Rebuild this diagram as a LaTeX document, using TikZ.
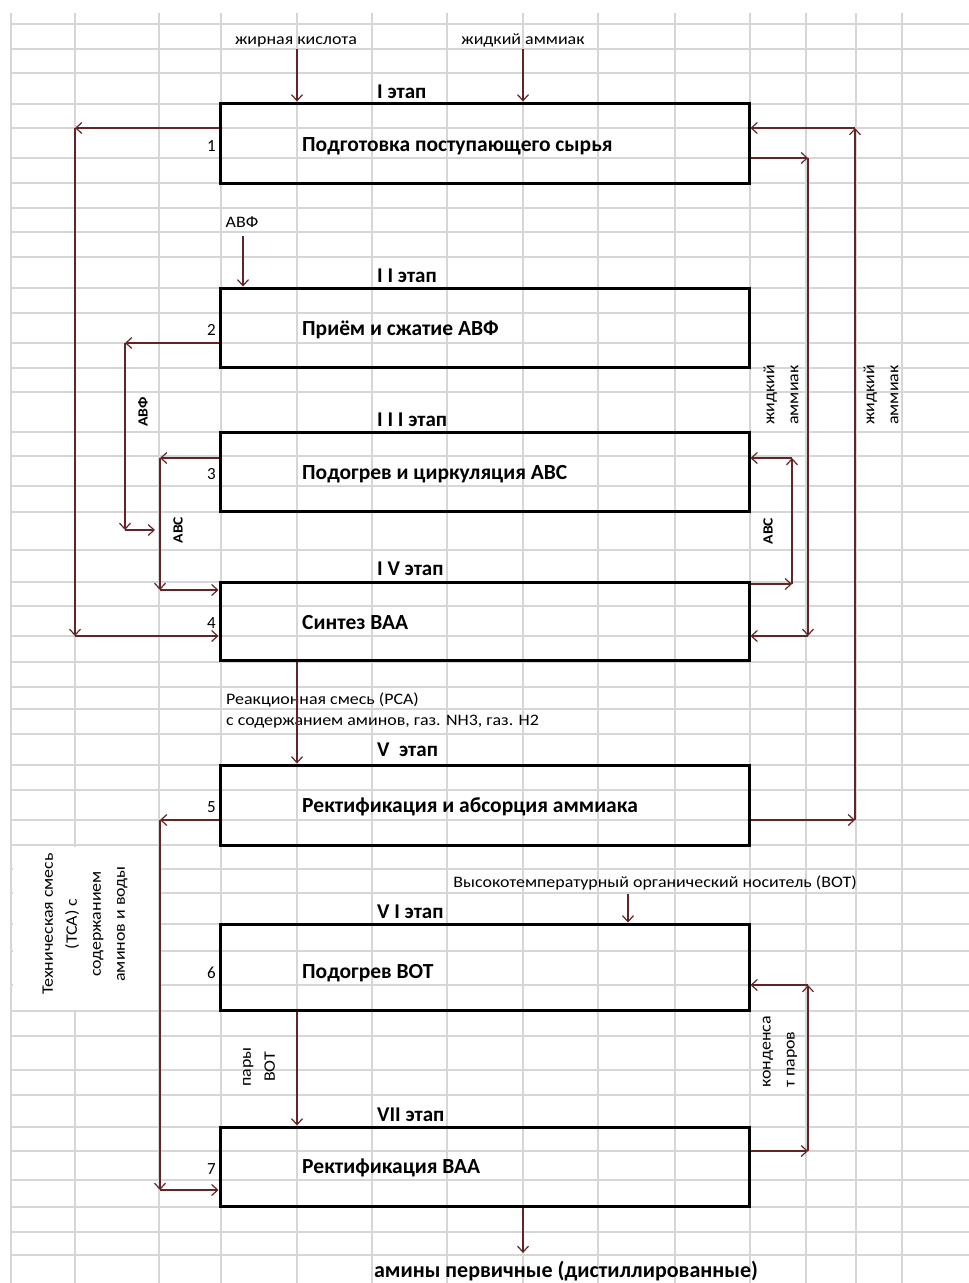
\documentclass[tikz,border=0pt]{standalone}
\usepackage{fontspec}
\setmainfont{Carlito}
\newfontfamily\widefont{Carlito}[FakeStretch=1.12]
\usetikzlibrary{arrows.meta}
\definecolor{flowc}{RGB}{99,36,38}
\definecolor{gridc}{RGB}{214,214,214}
\begin{document}
\begin{tikzpicture}[x=1pt,y=-1pt,
  flow/.style={draw=flowc, line width=1.4pt, -{Straight Barb[length=6pt,width=11pt,line width=1.2pt]}},
  box/.style={draw=black, line width=3pt, minimum width=529pt, inner sep=0pt},
  boxtext/.style={anchor=west, inner sep=0pt, font=\bfseries\fontsize{21.5}{24}\selectfont},
  stage/.style={anchor=west, inner sep=0pt, font=\bfseries\fontsize{21}{24}\selectfont},
  num/.style={anchor=east, inner sep=0pt, font=\fontsize{17}{19}\selectfont},
  small/.style={inner sep=0pt, font=\widefont\fontsize{16}{18}\selectfont},
  vlab/.style={inner sep=0pt, rotate=90, align=center, font=\widefont\fontsize{16}{24}\selectfont},
  vbold/.style={inner sep=0pt, rotate=90, font=\widefont\bfseries\fontsize{14}{16}\selectfont},
  gridl/.style={draw=gridc, line width=1.5pt}
]
\useasboundingbox[fill=white] (0,0) rectangle (969,1283);
% spreadsheet grid
\foreach \x in {11,75,159,221,297,372,447,523,598,675,750,806,856,902}
  \draw[gridl] (\x,13) -- (\x,1283);
\foreach \y in {24,49,73,104,128,158,183,208,232,257,288,313,343,368,392,432,456,486,512,550,582,606,636,662,687,709,734,765,790,820,845,869,893,924,951,985,1011,1036,1070,1095,1127,1151,1180,1207,1232,1255}
  \draw[gridl] (11,\y) -- (969,\y);
\fill[white] (12.5,846.5) rectangle (157.5,1009.5);

% boxes
\node[box, minimum height=80pt] (b1) at (484.5,143) {};
\node[box, minimum height=79pt] (b2) at (484.5,327.5) {};
\node[box, minimum height=79pt] (b3) at (484.5,471.5) {};
\node[box, minimum height=78pt] (b4) at (484.5,621) {};
\node[box, minimum height=80pt] (b5) at (484.5,805) {};
\node[box, minimum height=86pt] (b6) at (484.5,967) {};
\node[box, minimum height=79pt] (b7) at (484.5,1166.5) {};

% box texts
\node[boxtext] (t1) at (302,146) {Подготовка поступающего сырья};
\node[boxtext] (t2) at (302,330) {Приём и сжатие АВФ};
\node[boxtext] (t3) at (302,474) {Подогрев и циркуляция АВС};
\node[boxtext] (t4) at (302,623) {Синтез ВАА};
\node[boxtext] (t5) at (302,807) {Ректификация и абсорция аммиака};
\node[boxtext] (t6) at (302,973) {Подогрев ВОТ};
\node[boxtext] (t7) at (302,1168) {Ректификация ВАА};

% numbers
\node[num] (n1) at (216,146) {1};
\node[num] (n2) at (216,330) {2};
\node[num] (n3) at (216,474) {3};
\node[num] (n4) at (216,623) {4};
\node[num] (n5) at (216,807) {5};
\node[num] (n6) at (216,973) {6};
\node[num] (n7) at (216,1169) {7};

% stage labels
\node[stage] (s1) at (377,92) {I этап};
\node[stage] (s2) at (377,276) {I I этап};
\node[stage] (s3) at (377,420) {I I I этап};
\node[stage] (s4) at (377,569) {I V этап};
\node[stage] (s5) at (377,750) {V\ \ этап};
\node[stage] (s6) at (377,912) {V I этап};
\node[stage] (s7) at (377,1115) {VII этап};

% input labels
\node[small, anchor=base] (lfa) at (296,44) {жирная кислота};
\node[small, anchor=base] (lna) at (523,44) {жидкий аммиак};
\node[small] (lavf) at (242,222) {АВФ};
\node[small, anchor=west] (lrs1) at (226,700) {Реакционная смесь (РСА)};
\node[small, anchor=west] (lrs2) at (226,722) {с содержанием аминов, газ. NH3, газ. H2};
\node[small] (lvot) at (655,883) {Высокотемпературный органический носитель (ВОТ)};
\node[inner sep=0pt, font=\bfseries\fontsize{22}{24}\selectfont] (lam) at (566,1271) {амины первичные (дистиллированные)};

% rotated labels
\node[vbold] (vavf) at (143,412) {АВФ};
\node[vbold] (vabc1) at (178,530) {АВС};
\node[vbold] (vabc2) at (768,531) {АВС};
\node[vlab] (vna1) at (781,395) {жидкий\\аммиак};
\node[vlab] (vna2) at (881,395) {жидкий\\аммиак};
\node[vlab] (vtsa) at (85,924) {Техническая смесь\\(ТСА) с\\содержанием\\аминов и воды};
\node[vlab] (vpar) at (259,1067) {пары\\ВОТ};
\node[vlab, align=left] (vkon) at (780,1052) {конденса\\т паров};

% helper coordinates
\coordinate (cx1) at (297,0);
\coordinate (cx2) at (523,0);
\coordinate (cx3) at (628,0);
\coordinate (F1) at (297,49);
\coordinate (F2) at (523,49);
\coordinate (L1) at (75,128);
\coordinate (L2) at (75,636);
\coordinate (L3) at (125,343);
\coordinate (L4) at (125,530);
\coordinate (L5) at (155,530);
\coordinate (L6) at (160,458);
\coordinate (L7) at (160,590);
\coordinate (R1) at (855,128);
\coordinate (R2) at (855,820);
\coordinate (R3) at (808,158);
\coordinate (R4) at (808,636);
\coordinate (R5) at (792,584);
\coordinate (R6) at (792,458);
\coordinate (P1) at (160,820);
\coordinate (P2) at (160,1190);
\coordinate (Q1) at (808,1151);
\coordinate (Q2) at (808,985);
\coordinate (B1) at (523,1253);
\coordinate (A1) at (243,236);

% top inputs
\draw[flow] (F1) -- (F1 |- b1.north);
\draw[flow] (F2) -- (F2 |- b1.north);
\draw[flow] (A1) -- (A1 |- b2.north);

% left loops
\draw[flow] (b1.west |- L1) -- (L1);
\draw[flow] (L1) -- (L2);
\draw[flow] (L2) -- (L2 -| b4.west);
\draw[flow] (b2.west |- L3) -- (L3);
\draw[flow] (L3) -- (L4);
\draw[flow] (L4) -- (L5);
\draw[flow] (b3.west |- L6) -- (L6);
\draw[flow] (L6) -- (L7);
\draw[flow] (L7) -- (L7 -| b4.west);

% right loops
\draw[flow] (b5.east |- R2) -- (R2);
\draw[flow] (R2) -- (R1);
\draw[flow] (R1) -- (R1 -| b1.east);
\draw[flow] (b1.east |- R3) -- (R3);
\draw[flow] (R3) -- (R4);
\draw[flow] (R4) -- (R4 -| b4.east);
\draw[flow] (b4.east |- R5) -- (R5);
\draw[flow] (R5) -- (R6);
\draw[flow] (R6) -- (R6 -| b3.east);

% middle flows
\draw[flow] (b4.south -| cx1) -- (b5.north -| cx1);
\draw[flow] (b5.west |- P1) -- (P1);
\draw[flow] (P1) -- (P2);
\draw[flow] (P2) -- (P2 -| b7.west);
\draw[flow] (lvot.south -| cx3) ++(0,4) -- (b6.north -| cx3);
\draw[flow] (b6.south -| cx1) -- (b7.north -| cx1);
\draw[flow] (b7.east |- Q1) -- (Q1);
\draw[flow] (Q1) -- (Q2);
\draw[flow] (Q2) -- (Q2 -| b6.east);
\draw[flow] (b7.south -| cx2) -- (B1);
\end{tikzpicture}
\end{document}
